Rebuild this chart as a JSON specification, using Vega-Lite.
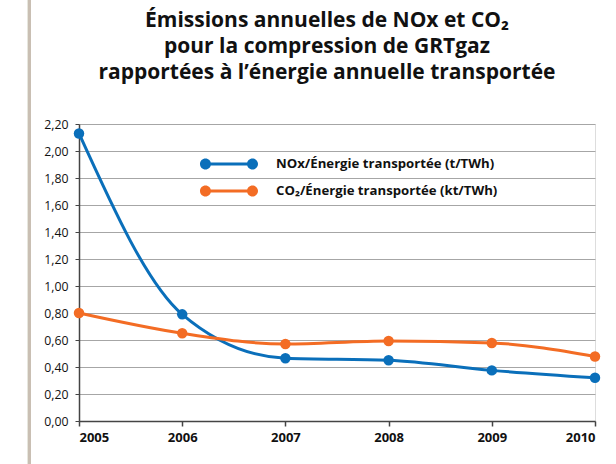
{
  "$schema": "https://vega.github.io/schema/vega-lite/v6.json",
  "width": 516,
  "height": 297,
  "autosize": {"type": "none"},
  "padding": {"left": 79, "top": 124, "right": 21, "bottom": 43},
  "background": "white",
  "title": {
    "text": ["Émissions annuelles de NOx et CO₂", "pour la compression de GRTgaz", "rapportées à l’énergie annuelle transportée"],
    "font": "Open Sans",
    "fontSize": 21,
    "fontWeight": "bold",
    "color": "#111111",
    "lineHeight": 26,
    "anchor": "middle",
    "frame": "group",
    "dx": -10,
    "offset": -85
  },
  "data": {
    "values": [
      {"year": 2005, "serie": "NOx/Énergie transportée (t/TWh)", "value": 2.13},
      {"year": 2006, "serie": "NOx/Énergie transportée (t/TWh)", "value": 0.79},
      {"year": 2007, "serie": "NOx/Énergie transportée (t/TWh)", "value": 0.465},
      {"year": 2008, "serie": "NOx/Énergie transportée (t/TWh)", "value": 0.45},
      {"year": 2009, "serie": "NOx/Énergie transportée (t/TWh)", "value": 0.375},
      {"year": 2010, "serie": "NOx/Énergie transportée (t/TWh)", "value": 0.32},
      {"year": 2005, "serie": "CO₂/Énergie transportée (kt/TWh)", "value": 0.8},
      {"year": 2006, "serie": "CO₂/Énergie transportée (kt/TWh)", "value": 0.65},
      {"year": 2007, "serie": "CO₂/Énergie transportée (kt/TWh)", "value": 0.57},
      {"year": 2008, "serie": "CO₂/Énergie transportée (kt/TWh)", "value": 0.593},
      {"year": 2009, "serie": "CO₂/Énergie transportée (kt/TWh)", "value": 0.578},
      {"year": 2010, "serie": "CO₂/Énergie transportée (kt/TWh)", "value": 0.478}
    ]
  },
  "encoding": {
    "x": {
      "field": "year",
      "type": "quantitative",
      "scale": {"domain": [2005, 2010], "nice": false, "zero": false},
      "axis": {
        "title": null,
        "values": [2005, 2006, 2007, 2008, 2009, 2010],
        "format": "d",
        "grid": false,
        "domainColor": "#444444",
        "domainWidth": 1.5,
        "tickColor": "#444444",
        "tickWidth": 1.5,
        "tickSize": 5,
        "labelFont": "Open Sans",
        "labelFontSize": 13,
        "labelFontWeight": "bold",
        "labelColor": "#111111",
        "labelPadding": 5
      }
    },
    "y": {
      "field": "value",
      "type": "quantitative",
      "scale": {"domain": [0, 2.2], "nice": false},
      "axis": {
        "title": null,
        "values": [0, 0.2, 0.4, 0.6, 0.8, 1, 1.2, 1.4, 1.6, 1.8, 2, 2.2],
        "labelExpr": "replace(format(datum.value, '.2f'), '.', ',')",
        "grid": true,
        "gridColor": "#a6a6a6",
        "gridWidth": 1,
        "domainColor": "#444444",
        "domainWidth": 1.5,
        "tickColor": "#444444",
        "tickWidth": 1,
        "tickSize": 4,
        "labelFont": "Open Sans",
        "labelFontSize": 12.3,
        "labelColor": "#111111",
        "labelPadding": 7
      }
    },
    "color": {
      "field": "serie",
      "type": "nominal",
      "sort": ["NOx/Énergie transportée (t/TWh)", "CO₂/Énergie transportée (kt/TWh)"],
      "scale": {
        "domain": ["NOx/Énergie transportée (t/TWh)", "CO₂/Énergie transportée (kt/TWh)"],
        "range": ["#0a6fba", "#f36c24"]
      },
      "legend": {
        "title": null,
        "orient": "none",
        "legendX": 143,
        "legendY": 33,
        "direction": "vertical",
        "symbolType": "M-3.36,-0.214 L3.36,-0.214 L3.36,0.214 L-3.36,0.214 Z M4.146,0 C4.146,0.434 3.794,0.786 3.36,0.786 C2.926,0.786 2.574,0.434 2.574,0 C2.574,-0.434 2.926,-0.786 3.36,-0.786 C3.794,-0.786 4.146,-0.434 4.146,0 Z M-2.574,0 C-2.574,0.434 -2.926,0.786 -3.36,0.786 C-3.794,0.786 -4.146,0.434 -4.146,0 C-4.146,-0.434 -3.794,-0.786 -3.36,-0.786 C-2.926,-0.786 -2.574,-0.434 -2.574,0 Z",
        "symbolSize": 196,
        "symbolStrokeWidth": 0,
        "labelFont": "Open Sans",
        "labelFontSize": 13.2,
        "labelFontWeight": "bold",
        "labelColor": "#111111",
        "labelOffset": 40,
        "rowPadding": 13,
        "labelLimit": 400,
        "encode": {
          "symbols": {
            "update": {
              "fill": {"scale": "color", "field": "value"},
              "stroke": {"value": "transparent"},
              "opacity": {"value": 1}
            }
          }
        }
      }
    }
  },
  "layer": [
    {
      "mark": {"type": "rule", "color": "#c9bfb3", "strokeWidth": 3},
      "encoding": {
        "x": {"datum": 2004.52, "type": "quantitative"},
        "y": {"datum": 3.12, "type": "quantitative"},
        "y2": {"datum": -0.32},
        "color": null
      }
    },
    {
      "mark": {"type": "line", "interpolate": "monotone", "strokeWidth": 3}
    },
    {
      "mark": {"type": "point", "filled": true, "size": 110, "opacity": 1}
    }
  ]
}
